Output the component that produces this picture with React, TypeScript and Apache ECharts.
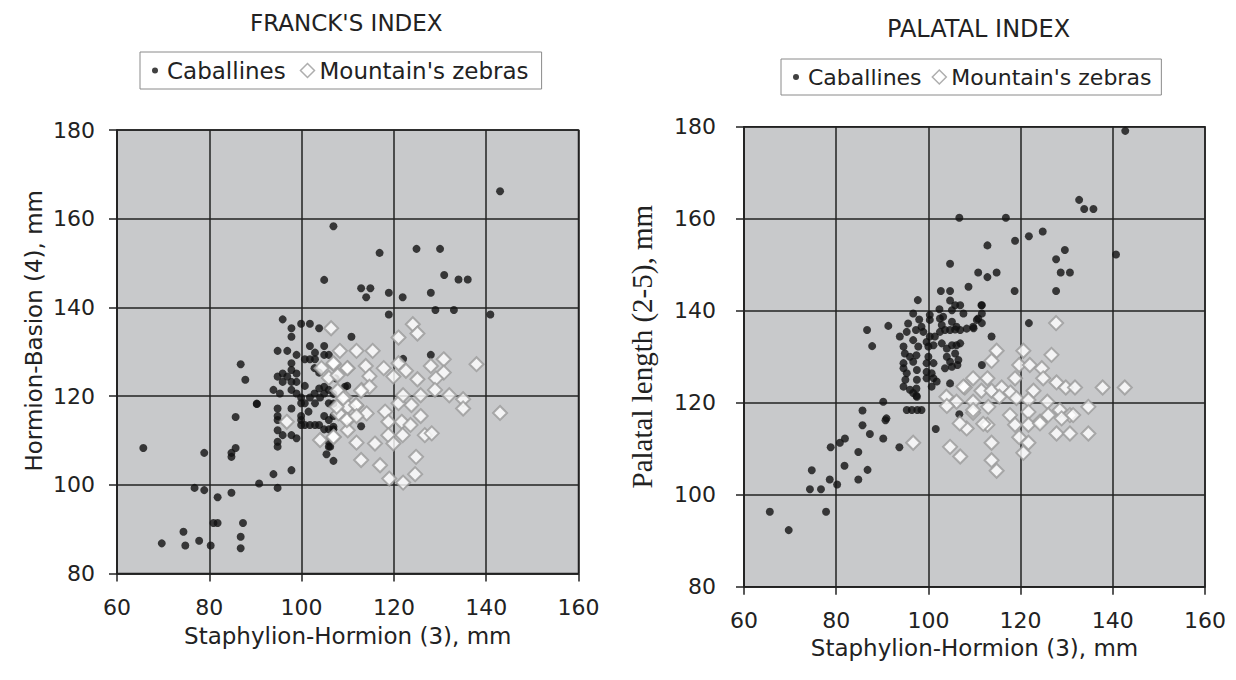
import React, { useEffect, useRef } from "react";
import * as echarts from "echarts";

// ---------- DATA ----------
const titleLeft = "FRANCK'S INDEX";
const titleRight = "PALATAL INDEX";
const seriesNames = ["Caballines", "Mountain's zebras"];
const xAxisName = "Staphylion-Hormion (3), mm";
const yAxisNameLeft = "Hormion-Basion (4), mm";
const yAxisNameRight = "Palatal length (2-5), mm";

// Franck's index: Caballines [x, y]
const franckCaballines: number[][] = [
  [65.7, 108.3], [69.7, 86.8], [74.4, 89.4], [74.8, 86.3], [77.8, 87.4], [80.3, 86.3], [76.8, 99.3],
  [78.9, 98.8], [78.9, 107.2], [81.8, 97.2], [80.9, 91.4], [81.8, 91.4], [84.8, 98.2], [84.8, 107.2],
  [84.8, 106.3], [85.7, 108.3], [85.7, 115.3], [86.8, 127.2], [87.8, 123.7], [86.8, 88.3], [86.8, 85.7],
  [87.3, 91.4], [90.3, 118.2], [90.8, 100.3], [94.8, 99.3],
  [95.9, 137.3], [97.8, 135.3], [97.8, 133.4], [99.9, 136.3], [101.8, 136.3], [103.8, 135.3], [110.8, 133.4],
  [94.8, 130.2], [96.9, 130.2], [98.9, 129.3], [101.8, 131.3], [102.9, 129.8], [104.9, 131.3], [100.7, 128.3],
  [101.8, 128.3], [102.9, 128.3], [104.9, 129.3], [105.9, 129.3], [102.8, 126.3], [103.8, 125.3], [97.8, 127.4],
  [97.8, 125.9], [98.9, 125.1], [97.8, 123.2], [94.8, 124.4], [95.9, 125.1], [96.9, 124.4], [95.9, 123.2],
  [98.9, 123.2], [100.7, 122.3], [93.9, 121.4], [95.3, 120.6], [90.3, 118.3], [97.8, 121.4], [98.9, 120.6],
  [99.9, 119.7], [99.9, 118.4], [100.7, 118.4], [101.8, 119.7], [102.8, 120.6], [104.0, 119.7], [104.9, 120.6],
  [105.9, 121.4], [106.9, 120.5], [103.8, 121.7], [104.9, 122.1], [102.9, 118.4], [105.9, 118.4], [94.8, 117.2],
  [94.8, 115.5], [97.8, 117.2], [94.8, 114.6], [94.8, 112.3], [95.9, 111.2], [97.8, 111.2], [98.9, 110.5],
  [99.9, 115.5], [99.9, 114.6], [99.9, 113.5], [100.7, 113.5], [101.8, 113.5], [102.9, 113.5], [103.8, 113.5],
  [104.9, 115.5], [105.9, 114.6], [106.9, 115.5], [104.9, 112.5], [105.9, 112.5], [106.9, 112.5], [105.9, 109.7],
  [105.9, 108.6], [105.4, 106.9], [106.9, 105.4], [94.8, 109.7], [94.8, 108.6], [93.9, 102.4], [97.8, 103.3],
  [112.9, 113.2], [109.4, 122.1], [107.4, 124.0], [101.5, 116.5],
  [106.9, 158.3], [104.9, 146.2], [143.0, 166.2], [116.9, 152.3], [124.9, 153.2], [130.0, 153.2],
  [112.9, 144.3], [114.9, 144.3], [114.0, 142.3], [118.9, 143.3], [121.9, 142.3], [130.9, 147.3], [134.0, 146.3],
  [136.0, 146.3], [128.0, 143.3], [129.0, 139.4], [133.0, 139.4], [118.9, 138.4], [140.9, 138.4], [128.0, 129.3],
  [122.0, 128.4], [109.9, 122.3], [106.9, 118.3], [106.9, 113.1], [106.2, 108.6]
];

// Franck's index: Mountain's zebras [x, y]
const franckZebras: number[][] = [
  [96.8, 114.2], [106.4, 135.3], [108.3, 130.2], [111.9, 130.2], [115.4, 130.2], [104.3, 126.3], [107.0, 127.2],
  [110.0, 126.3], [105.9, 124.1], [107.8, 124.7], [113.9, 126.8], [117.8, 126.3], [121.0, 127.4], [119.9, 124.4],
  [122.6, 125.7], [114.7, 124.5], [113.0, 121.4], [114.7, 122.1], [107.8, 121.2], [109.4, 119.7], [112.9, 121.2],
  [111.9, 117.8], [114.1, 116.1], [110.0, 117.6], [108.0, 116.1], [110.0, 114.6], [104.0, 110.1], [107.0, 110.8],
  [110.0, 112.3], [111.9, 109.5], [112.9, 105.6], [124.1, 136.2], [125.1, 134.1], [121.0, 133.2],
  [137.9, 127.2], [143.0, 116.2], [125.1, 123.8], [128.0, 126.8], [130.8, 128.3], [130.8, 125.3], [129.1, 124.0],
  [128.9, 121.4], [132.0, 120.2], [135.0, 119.3], [135.0, 117.2], [125.8, 120.2], [123.8, 118.0], [121.0, 118.4],
  [118.1, 116.5], [122.0, 120.2], [109.0, 119.5], [111.8, 118.0], [107.6, 117.6], [109.8, 114.6], [111.9, 115.5],
  [118.8, 114.2], [121.7, 114.2], [125.8, 115.5], [123.6, 113.5], [121.9, 111.2], [118.8, 111.2], [119.9, 109.3],
  [126.7, 111.2], [128.2, 111.6], [115.9, 109.3], [106.9, 110.8], [124.8, 106.3], [117.0, 104.4], [119.0, 101.4],
  [122.0, 100.5], [124.6, 102.4], [106.9, 127.4], [109.9, 126.3]
];

// Palatal index: Caballines [x, y]
const palatalCaballines: number[][] = [
  [142.7, 179.1], [132.7, 164.1], [133.8, 162.1], [135.8, 162.1], [106.7, 160.2], [116.8, 160.2], [112.8, 154.2],
  [118.8, 155.2], [121.8, 156.2], [124.8, 157.2], [104.7, 150.2], [110.8, 148.3], [112.8, 147.3], [114.8, 148.3],
  [127.7, 151.2], [129.6, 153.2], [128.7, 148.3], [130.7, 148.3], [108.7, 145.2], [118.7, 144.3], [127.7, 144.3],
  [140.7, 152.2], [121.8, 137.3], [102.7, 144.3], [104.7, 144.3], [113.7, 134.4], [111.6, 139.4], [111.6, 137.3],
  [109.8, 136.2], [111.6, 128.2], [97.7, 142.3], [107.6, 139.4], [111.5, 141.2], [110.8, 138.3],
  [104.7, 142.2], [105.8, 141.2], [105.1, 140.1], [102.4, 140.3], [100.3, 139.1], [100.3, 138.0], [96.7, 139.4],
  [98.0, 138.1], [111.6, 141.2], [110.5, 138.0], [109.7, 136.5], [108.3, 136.1], [91.3, 136.7], [95.6, 137.2],
  [93.8, 134.4], [95.3, 135.4], [97.3, 135.8], [98.5, 136.5], [102.5, 138.3], [102.9, 136.9], [105.1, 137.6],
  [106.1, 136.5], [106.9, 135.8], [98.9, 135.4], [100.3, 134.4], [101.4, 134.4], [102.5, 135.4], [103.6, 135.8],
  [104.7, 135.8], [105.8, 135.9], [94.6, 132.2], [94.9, 130.7], [96.7, 133.6], [97.8, 132.2], [99.6, 133.2],
  [100.0, 132.2], [101.1, 132.5], [102.9, 132.9], [104.0, 131.8], [105.1, 132.5], [106.1, 132.5], [106.9, 132.9],
  [94.6, 128.6], [94.6, 127.5], [95.3, 126.4], [96.0, 130.0], [96.7, 128.9], [97.4, 130.3], [100.0, 130.0],
  [99.6, 128.6], [101.1, 128.6], [104.0, 130.0], [104.7, 128.9], [105.8, 130.7], [106.5, 129.3], [106.3, 128.2],
  [105.1, 127.8], [103.6, 127.5], [99.6, 126.7], [99.6, 125.3], [101.1, 125.3], [101.8, 124.6], [94.6, 123.5],
  [96.0, 122.8], [96.7, 122.1], [97.4, 121.5], [97.4, 123.1], [104.7, 124.2], [90.2, 120.2], [95.3, 118.4],
  [96.4, 118.4], [97.6, 118.4], [98.5, 118.4], [106.7, 117.5], [90.9, 116.6], [86.7, 135.8], [87.8, 132.3],
  [106.9, 141.2], [103.2, 138.7], [97.5, 127.1], [95.0, 125.0], [97.5, 125.0], [97.5, 121.3], [100.7, 126.4],
  [100.7, 123.5], [85.7, 118.3], [90.7, 116.2], [85.7, 115.1], [87.3, 113.2], [90.2, 112.2], [93.7, 110.3],
  [101.6, 114.3], [81.9, 112.2], [80.8, 111.3], [78.8, 110.3], [84.8, 109.3], [81.8, 106.3], [86.8, 105.4],
  [84.8, 103.3], [78.6, 103.3], [80.2, 102.2], [74.7, 105.3], [74.3, 101.2], [76.7, 101.2], [65.6, 96.3],
  [69.7, 92.3], [77.8, 96.3]
];

// Palatal index: Mountain's zebras [x, y]
const palatalZebras: number[][] = [
  [127.7, 137.3], [114.8, 131.3], [120.6, 131.3], [126.7, 130.4], [113.7, 129.1], [119.7, 128.2], [122.0, 128.2],
  [124.6, 127.5], [109.7, 125.3], [112.8, 125.3], [118.8, 125.3], [124.9, 125.3], [127.8, 124.4], [129.8, 123.3],
  [131.8, 123.3], [137.8, 123.3], [142.6, 123.3], [107.9, 123.3], [111.5, 122.6], [113.7, 122.6], [115.9, 123.3],
  [117.8, 122.2], [122.8, 122.6], [109.7, 120.2], [113.0, 119.1], [115.4, 121.3], [119.1, 121.0], [121.7, 120.6],
  [125.8, 120.2], [128.5, 118.4], [130.7, 117.3], [134.7, 119.1], [109.7, 117.8], [117.7, 117.3], [121.7, 118.0],
  [124.2, 115.9], [126.0, 117.3], [128.9, 116.6], [131.4, 117.3], [108.3, 114.4], [112.8, 115.2], [118.8, 115.2],
  [121.7, 115.2], [124.2, 115.5], [127.8, 113.3], [130.7, 113.3], [134.7, 113.3], [113.7, 111.3], [119.7, 112.5],
  [121.7, 111.3], [120.6, 109.1], [113.7, 107.5], [114.8, 105.2], [106.9, 108.3], [103.9, 121.3], [107.6, 123.5],
  [106.1, 120.2], [109.7, 118.4], [106.8, 115.5], [104.7, 110.4], [96.7, 111.3], [104.0, 119.3], [111.9, 115.4]
];

const xMin = 60, xMax = 160, xStep = 20;
const yMin = 80, yMax = 180, yStep = 20;

export default function App() {
  const ref = useRef<HTMLDivElement>(null);
  useEffect(() => {
    document.body.style.margin = "0";
    const chart = echarts.init(ref.current!, null, { renderer: "svg" });
    const font = "DejaVu Sans";
    const dark = "#222222";
    const axisCommon = {
      type: "value",
      axisLine: { show: true, lineStyle: { color: dark, width: 1.5 } },
      axisTick: { show: true, inside: false, length: 8, lineStyle: { color: dark, width: 1.5 } },
      splitLine: { show: true, lineStyle: { color: dark, width: 1.5 } },
    };
    const dotIcon = "path://M0 0M14 14M4 7a3 3 0 1 0 6 0a3 3 0 1 0 -6 0Z";
    const makeSeries = (data: number[][], idx: number, zebra: boolean) =>
      zebra
        ? {
            name: seriesNames[1], type: "scatter", xAxisIndex: idx, yAxisIndex: idx, data,
            symbol: "diamond", symbolSize: 14,
            itemStyle: { color: "#ffffff", borderColor: "#9a9a9a", borderWidth: 2 },
            z: 3,
          }
        : {
            name: seriesNames[0], type: "scatter", xAxisIndex: idx, yAxisIndex: idx, data,
            symbol: "circle", symbolSize: 8,
            itemStyle: { color: "#111111" },
            z: 2,
          };
    const legendData = [
      { name: seriesNames[0], icon: dotIcon, itemStyle: { color: "#111" } },
      { name: seriesNames[1], icon: "diamond", itemStyle: { color: "#fff", borderColor: "#9a9a9a", borderWidth: 1.5 } },
    ];
    const legendCommon = {
      orient: "horizontal",
      itemWidth: 14, itemHeight: 14,
      borderColor: "#8a8a8a", borderWidth: 1,
      data: legendData,
    };
    chart.setOption({
      animation: false,
      backgroundColor: "#ffffff",
      textStyle: { fontFamily: font },
      title: [
        { text: titleLeft, left: 245, top: 6, textStyle: { fontFamily: font, fontSize: 23, fontWeight: "normal", color: "#222" } },
        { text: titleRight, left: 882, top: 12, textStyle: { fontFamily: font, fontSize: 24, fontWeight: "normal", color: "#222" } },
      ],
      legend: [
        { ...legendCommon, left: 140, top: 52, itemGap: 14, padding: [7, 13, 7, 8],
          textStyle: { fontFamily: font, fontSize: 23, color: "#222" } },
        { ...legendCommon, left: 781, top: 59, itemGap: 10, padding: [7, 10, 7, 8],
          textStyle: { fontFamily: font, fontSize: 22, color: "#222" } },
      ],
      grid: [
        { left: 117, top: 130, width: 461.5, height: 443.5, show: true, backgroundColor: "#c8c9cb", borderColor: dark, borderWidth: 1.5 },
        { left: 744, top: 126.7, width: 461, height: 460, show: true, backgroundColor: "#c8c9cb", borderColor: dark, borderWidth: 1.5 },
      ],
      xAxis: [0, 1].map((i) => ({
        ...axisCommon, gridIndex: i, min: xMin, max: xMax, interval: xStep,
        name: xAxisName, nameLocation: "middle", nameGap: i === 0 ? 51 : 49,
        nameTextStyle: { fontFamily: font, fontSize: 23, color: "#222" },
        axisLabel: { fontFamily: font, fontSize: 22, color: "#222", margin: 23 },
      })),
      yAxis: [0, 1].map((i) => ({
        ...axisCommon, gridIndex: i, min: yMin, max: yMax, interval: yStep,
        name: i === 0 ? yAxisNameLeft : yAxisNameRight, nameLocation: "middle", nameGap: i === 0 ? 72 : 88,
        nameTextStyle: i === 0
          ? { fontFamily: font, fontSize: 23, color: "#222", padding: [0, 0, 0, 42] }
          : { fontFamily: "Liberation Serif", fontSize: 29, color: "#222", padding: [0, 0, 0, 20] },
        axisLabel: { fontFamily: font, fontSize: 22, color: "#222", margin: i === 0 ? 22 : 28 },
      })),
      series: [
        makeSeries(franckCaballines, 0, false),
        makeSeries(franckZebras, 0, true),
        makeSeries(palatalCaballines, 1, false),
        makeSeries(palatalZebras, 1, true),
      ],
    });
    return () => chart.dispose();
  }, []);
  return <div ref={ref} style={{ width: 1236, height: 680 }} />;
}
